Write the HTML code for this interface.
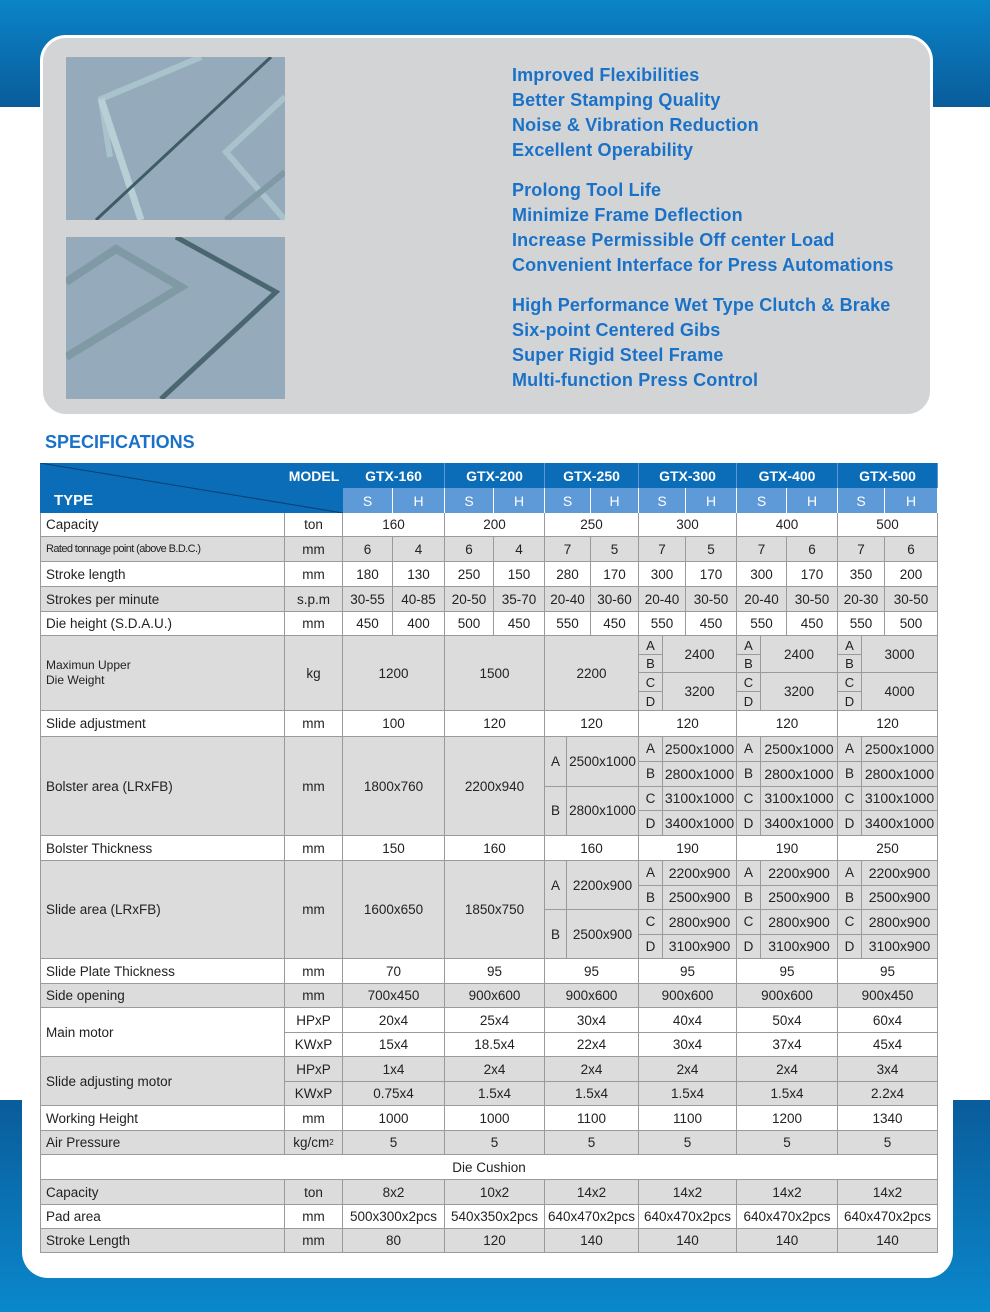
<!DOCTYPE html>
<html><head><meta charset="utf-8"><style>
body{margin:0;width:990px;height:1312px;position:relative;overflow:hidden;background:#fff;font-family:"Liberation Sans",Arial,sans-serif}
.abs{position:absolute}
.c{position:absolute;box-sizing:border-box;display:flex;align-items:center;justify-content:center;font-size:13.5px;color:#222;border-right:1px solid #9a9a9a;border-bottom:1px solid #9a9a9a;white-space:nowrap;overflow:hidden}
.l{justify-content:flex-start;padding-left:5px}
.g{background:#dcdcdc}
.w{background:#fff}
.feat{position:absolute;left:512px;font-weight:bold;font-size:18px;letter-spacing:0.15px;color:#1a72c8;line-height:25px}
</style></head><body>
<div class="abs" style="left:0;top:0;width:990px;height:107px;background:linear-gradient(#0a84c8,#0a5c9a)"></div>
<div class="abs" style="left:0;top:1100px;width:990px;height:212px;background:linear-gradient(#0a5c9a,#0a88cc)"></div>
<div class="abs" style="left:22px;top:107px;width:931px;height:1171px;background:#fff;border-radius:0 0 26px 26px"></div>
<div class="abs" style="left:40px;top:35px;width:893px;height:382px;background:#d3d4d6;border:3px solid #fff;box-sizing:border-box;border-radius:26px"></div>
<svg class="abs" style="left:66px;top:57px" width="219" height="163">
<rect width="219" height="163" fill="#95aabb"/>
<polyline points="44,100 35,42 135,0" fill="none" stroke="#a9c3cc" stroke-width="6"/>
<line x1="35" y1="42" x2="75" y2="163" stroke="#b9cfd6" stroke-width="7"/>
<line x1="30" y1="163" x2="205" y2="0" stroke="#3e5b66" stroke-width="3"/>
<polyline points="219,40 160,95 219,163" fill="none" stroke="#a9c3cc" stroke-width="6"/>
<line x1="160" y1="163" x2="219" y2="115" stroke="#7f9aa4" stroke-width="6"/>
</svg>
<svg class="abs" style="left:66px;top:237px" width="219" height="162">
<rect width="219" height="162" fill="#95aabb"/>
<polyline points="0,45 50,12 115,50 0,120" fill="none" stroke="#7f9aa4" stroke-width="8"/>
<polyline points="110,0 210,55 95,162" fill="none" stroke="#4a6670" stroke-width="5"/>
</svg>
<div class="feat" style="top:63px">Improved Flexibilities<br>Better Stamping Quality<br>Noise &amp; Vibration Reduction<br>Excellent Operability</div>
<div class="feat" style="top:178px">Prolong Tool Life<br>Minimize Frame Deflection<br>Increase Permissible Off center Load<br>Convenient Interface for Press Automations</div>
<div class="feat" style="top:293px">High Performance Wet Type Clutch &amp; Brake<br>Six-point Centered Gibs<br>Super Rigid Steel Frame<br>Multi-function Press Control</div>
<div class="abs" style="left:45px;top:432px;font-size:18px;font-weight:bold;color:#1a72c8">SPECIFICATIONS</div>
<div class="abs" id="tbl" style="left:0;top:0"></div>
<script>
const models=["GTX-160","GTX-200","GTX-250","GTX-300","GTX-400","GTX-500"];
const M=[343,445,545,639,737,838,938];
const SP=[393,494,591,686,787,885];
const LT=[545,567,639,663,737,761,838,862];
const tbl=document.getElementById('tbl');
function cell(x1,y1,x2,y2,t,cls,st){
  const d=document.createElement('div');
  d.className='c '+(cls||'');
  d.style.left=x1+'px';d.style.top=y1+'px';d.style.width=(x2-x1)+'px';d.style.height=(y2-y1)+'px';
  if(st)d.style.cssText+=st;
  d.innerHTML=t;
  
  
  tbl.appendChild(d);return d;
}
const h=document.createElement('div');
h.className='abs';h.style.cssText='left:40px;top:463px;width:898px;height:50px;background:#0b6cb8;';


tbl.appendChild(h);
tbl.insertAdjacentHTML('beforeend','<svg class="abs" style="left:40px;top:463px" width="303" height="50"><line x1="0" y1="0" x2="303" y2="50" stroke="#0a3f70" stroke-width="1"/></svg>');
cell(285,463,343,488,'MODEL','', 'color:#fff;font-weight:bold;font-size:14px;border:none;background:transparent');
cell(40,488,200,513,'TYPE','l','color:#fff;font-weight:bold;font-size:15px;border:none;background:transparent;padding-left:14px');
for(let i=0;i<6;i++){
  cell(M[i],463,M[i+1],488,models[i],'','color:#fff;font-weight:bold;font-size:14px;border-right:1px solid #5d96d4;border-bottom:none');
  cell(M[i],488,SP[i],513,'S','','color:#fff;background:#5e9ad8;font-size:14px;border-right:1px solid #fff;border-bottom:none');
  cell(SP[i],488,M[i+1],513,'H','','color:#fff;background:#5e9ad8;font-size:14px;border-right:1px solid #fff;border-bottom:none');
}
function lab(y1,y2,t,u,bg,st){cell(40,y1,285,y2,t,'l '+bg,'border-left:1px solid #9a9a9a;'+(st||''));if(u!==null)cell(285,y1,343,y2,u,bg);}
function merged(y1,y2,vals,bg){for(let i=0;i<6;i++)cell(M[i],y1,M[i+1],y2,vals[i],bg);}
function split(y1,y2,vals,bg){for(let i=0;i<6;i++){cell(M[i],y1,SP[i],y2,vals[2*i],bg);cell(SP[i],y1,M[i+1],y2,vals[2*i+1],bg);}}
const capacity=["160","200","250","300","400","500"];
const rated=["6","4","6","4","7","5","7","5","7","6","7","6"];
const stroke=["180","130","250","150","280","170","300","170","300","170","350","200"];
const spm=["30-55","40-85","20-50","35-70","20-40","30-60","20-40","30-50","20-40","30-50","20-30","30-50"];
const dieh=["450","400","500","450","550","450","550","450","550","450","550","500"];
const slideAdj=["100","120","120","120","120","120"];
const bolsterT=["150","160","160","190","190","250"];
const slidePlate=["70","95","95","95","95","95"];
const sideOpen=["700x450","900x600","900x600","900x600","900x600","900x450"];
const mainHP=["20x4","25x4","30x4","40x4","50x4","60x4"];
const mainKW=["15x4","18.5x4","22x4","30x4","37x4","45x4"];
const adjHP=["1x4","2x4","2x4","2x4","2x4","3x4"];
const adjKW=["0.75x4","1.5x4","1.5x4","1.5x4","1.5x4","2.2x4"];
const workH=["1000","1000","1100","1100","1200","1340"];
const air=["5","5","5","5","5","5"];
const dcCap=["8x2","10x2","14x2","14x2","14x2","14x2"];
const dcPad=["500x300x2pcs","540x350x2pcs","640x470x2pcs","640x470x2pcs","640x470x2pcs","640x470x2pcs"];
const dcStroke=["80","120","140","140","140","140"];
lab(513,537,'Capacity','ton','w');merged(513,537,capacity,'w');
lab(537,562,'Rated tonnage point (above B.D.C.)','mm','g','font-size:11px;letter-spacing:-0.6px');split(537,562,rated,'g');
lab(562,587,'Stroke length','mm','w');split(562,587,stroke,'w');
lab(587,612,'Strokes per minute','s.p.m','g');split(587,612,spm,'g');
lab(612,636,'Die height (S.D.A.U.)','mm','w');split(612,636,dieh,'w');
lab(636,711,'Maximun Upper<br>Die Weight','kg','g','font-size:12px;line-height:15px');
cell(M[0],636,M[1],711,'1200','g');cell(M[1],636,M[2],711,'1500','g');cell(M[2],636,M[3],711,'2200','g');
const wTop=["2400","2400","3000"],wBot=["3200","3200","4000"];
const ys4=[636,655,673,692,711];
for(let k=0;k<3;k++){const a=M[3+k],b=LT[2+2*k+1],e=M[4+k];
  ['A','B','C','D'].forEach((L,j)=>cell(a,ys4[j],b,ys4[j+1],L,'g','font-size:13px'));
  cell(b,636,e,673,wTop[k],'g');cell(b,673,e,711,wBot[k],'g');}
lab(711,737,'Slide adjustment','mm','w');merged(711,737,slideAdj,'w');
function abcd(y1,y2,v0,v1,big2,list,bg){
  cell(M[0],y1,M[1],y2,v0,bg);cell(M[1],y1,M[2],y2,v1,bg);
  const ym=(y1+y2)/2;
  cell(545,y1,567,ym,'A',bg);cell(567,y1,639,ym,big2[0],bg);
  cell(545,ym,567,y2,'B',bg);cell(567,ym,639,y2,big2[1],bg);
  const st=(y2-y1)/4;
  for(let k=0;k<3;k++){const a=M[3+k],b=LT[2+2*k+1],e=M[4+k];
    ['A','B','C','D'].forEach((L,j)=>{cell(a,y1+j*st,b,y1+(j+1)*st,L,bg);cell(b,y1+j*st,e,y1+(j+1)*st,list[j],bg,'font-size:14px');});}
}
lab(737,836,'Bolster area (LRxFB)','mm','g');
abcd(737,836,'1800x760','2200x940',['2500x1000','2800x1000'],['2500x1000','2800x1000','3100x1000','3400x1000'],'g');
lab(836,861,'Bolster Thickness','mm','w');merged(836,861,bolsterT,'w');
lab(861,959,'Slide area (LRxFB)','mm','g');
abcd(861,959,'1600x650','1850x750',['2200x900','2500x900'],['2200x900','2500x900','2800x900','3100x900'],'g');
lab(959,984,'Slide Plate Thickness','mm','w');merged(959,984,slidePlate,'w');
lab(984,1008,'Side opening','mm','g');merged(984,1008,sideOpen,'g');
lab(1008,1057,'Main motor',null,'w');cell(285,1008,343,1033,'HPxP','w');cell(285,1033,343,1057,'KWxP','w');
merged(1008,1033,mainHP,'w');merged(1033,1057,mainKW,'w');
lab(1057,1106,'Slide adjusting motor',null,'g');cell(285,1057,343,1082,'HPxP','g');cell(285,1082,343,1106,'KWxP','g');
merged(1057,1082,adjHP,'g');merged(1082,1106,adjKW,'g');
lab(1106,1131,'Working Height','mm','w');merged(1106,1131,workH,'w');
lab(1131,1155,'Air Pressure','kg/cm<sup style="font-size:8px">2</sup>','g');merged(1131,1155,air,'g');
cell(40,1155,938,1180,'Die Cushion','w','border-left:1px solid #9a9a9a');
lab(1180,1205,'Capacity','ton','g');merged(1180,1205,dcCap,'g');
lab(1205,1229,'Pad area','mm','w');merged(1205,1229,dcPad,'w');
lab(1229,1253,'Stroke Length','mm','g');merged(1229,1253,dcStroke,'g');
</script>
</body></html>
